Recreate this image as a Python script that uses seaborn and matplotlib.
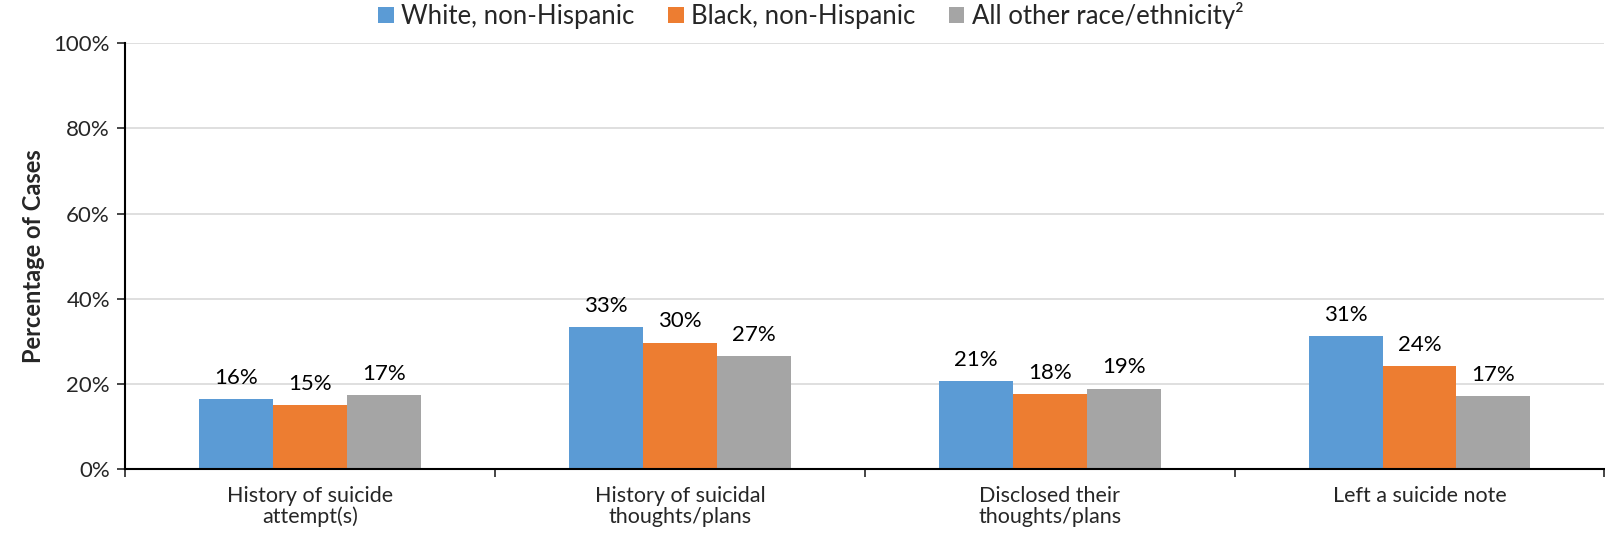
import pandas as pd
import matplotlib
matplotlib.use("Agg")
import matplotlib.pyplot as plt
import seaborn as sns
from matplotlib.ticker import PercentFormatter

# Data
categories = ["History of suicide\nattempt(s)", "History of suicidal\nthoughts/plans",
              "Disclosed their\nthoughts/plans", "Left a suicide note"]
groups = ["White, non-Hispanic", "Black, non-Hispanic", "All other race/ethnicity\u00b2"]
white = [16.4, 33.3, 20.7, 31.2]
black = [15.0, 29.7, 17.7, 24.2]
other = [17.3, 26.6, 18.9, 17.2]
colors = ["#5B9BD5", "#ED7D31", "#A5A5A5"]

df = pd.DataFrame({
    "Category": categories * 3,
    "Group": [g for g in groups for _ in categories],
    "Value": white + black + other,
})

sns.set_style("white")
plt.rcParams['font.family'] = ['Lato', 'DejaVu Sans']

fig = plt.figure(figsize=(16.06, 5.41), dpi=100)
ax = fig.add_axes([0.078, 0.133, 0.921, 0.787])

sns.barplot(data=df, x="Category", y="Value", hue="Group", order=categories,
            hue_order=groups, palette=colors, width=0.6, saturation=1,
            linewidth=0, ax=ax, legend=True)

for cont in ax.containers:
    ax.bar_label(cont, fmt="{:.0f}%", padding=8, fontsize=16, color="#000000")

ax.set_ylim(0, 100)
ax.set_xlim(-0.5, len(categories) - 0.5)
ax.yaxis.set_major_formatter(PercentFormatter(decimals=0))
ax.set_yticks(range(0, 101, 20))
ax.yaxis.grid(True, color="#D9D9D9", linewidth=1.2)
ax.set_axisbelow(True)

# category boundaries as major ticks, labels at centers
ax.set_xticks([i - 0.5 for i in range(len(categories) + 1)])
ax.set_xticklabels([])
ax.set_xticks(range(len(categories)), minor=True)
ax.set_xticklabels(categories, minor=True, fontsize=15.5, linespacing=1.05)
ax.tick_params(axis="x", which="major", direction="out", length=6, width=1.2, bottom=True)
ax.tick_params(axis="x", which="minor", length=0, pad=12)
ax.tick_params(axis="y", direction="out", length=6, width=1.2, left=True, labelsize=16, pad=5)

for s in ["top", "right"]:
    ax.spines[s].set_visible(False)
for s in ["left", "bottom"]:
    ax.spines[s].set_color("#000000")
    ax.spines[s].set_linewidth(1.5)

ax.set_xlabel("")
ax.set_ylabel("Percentage of Cases", fontsize=17, fontweight="bold", labelpad=6)

handles, labels = ax.get_legend_handles_labels()
ax.get_legend().remove()
fig.legend(handles, labels, loc="upper center", bbox_to_anchor=(0.505, 1.015), ncol=3,
           frameon=False, fontsize=18.5, handlelength=0.6, handleheight=0.6,
           handletextpad=0.3, columnspacing=1.3, borderaxespad=0)

fig.savefig("out.png", dpi=100)
